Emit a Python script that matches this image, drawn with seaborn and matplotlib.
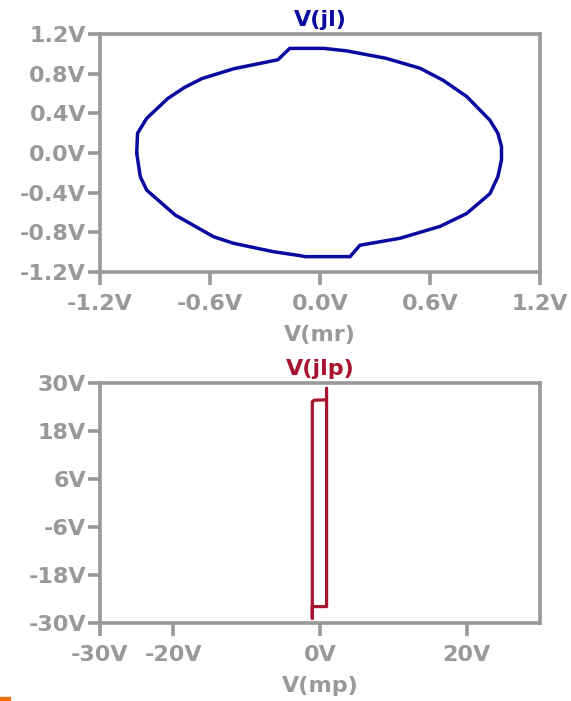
import matplotlib
matplotlib.use("Agg")
import matplotlib.pyplot as plt
import matplotlib.patches as mpatches
import seaborn as sns
import pandas as pd

# V(jl) versus V(mr): closed loop traced counter-clockwise from the left edge
mr_x = [-1.0, -0.995, -0.945, -0.83, -0.74, -0.645, -0.47, -0.23, -0.165, 0.02, 0.145,
        0.36, 0.545, 0.67, 0.8, 0.927, 0.97, 0.99, 0.99, 0.97, 0.927, 0.8, 0.655, 0.436,
        0.218, 0.164, -0.08, -0.127, -0.255, -0.473, -0.58, -0.79, -0.945,
        -0.98, -1.0]
jl_y = [0.0, 0.2, 0.35, 0.55, 0.66, 0.75, 0.85, 0.94, 1.055, 1.055, 1.03,
        0.955, 0.855, 0.735, 0.57, 0.33, 0.2, 0.065, -0.07, -0.24, -0.41, -0.61, -0.74, -0.86,
        -0.93, -1.045, -1.045, -1.03, -0.995, -0.91, -0.845, -0.625, -0.375,
        -0.24, 0.0]

# V(jlp) versus V(mp): narrow hysteresis loop
mp_x = [0.9, 0.9, -1.05, -1.05, -1.05, -0.8, 0.9]
jlp_y = [28.7, -25.9, -25.9, -28.8, 25.3, 25.7, 25.8]

top_xticks = [-1.2, -0.6, 0.0, 0.6, 1.2]
top_xlabels = ["-1.2V", "-0.6V", "0.0V", "0.6V", "1.2V"]
top_yticks = [-1.2, -0.8, -0.4, 0.0, 0.4, 0.8, 1.2]
top_ylabels = ["-1.2V", "-0.8V", "-0.4V", "0.0V", "0.4V", "0.8V", "1.2V"]

bot_xticks = [-30, -20, 0, 20]
bot_xlabels = ["-30V", "-20V", "0V", "20V"]
bot_yticks = [-30, -18, -6, 6, 18, 30]
bot_ylabels = ["-30V", "-18V", "-6V", "6V", "18V", "30V"]

GRAY = "#999999"
BLUE = "#0a0aa0"
RED = "#a8142e"
FS = 16

sns.set_theme(style="white")
plt.rcParams["font.family"] = ["DejaVu Sans"]
plt.rcParams["font.weight"] = "bold"

W, H = 571, 701
fig = plt.figure(figsize=(W / 100, H / 100), dpi=100)

ax1 = fig.add_axes([100 / W, (H - 272) / H, 440 / W, 238 / H])
ax2 = fig.add_axes([100 / W, (H - 623) / H, 440 / W, 240 / H])

df1 = pd.DataFrame({"mr": mr_x, "jl": jl_y})
df2 = pd.DataFrame({"mp": mp_x, "jlp": jlp_y})

sns.lineplot(data=df1, x="mr", y="jl", sort=False, estimator=None,
             color=BLUE, linewidth=2.5, ax=ax1)
sns.lineplot(data=df2, x="mp", y="jlp", sort=False, estimator=None,
             color=RED, linewidth=2.3, ax=ax2)


def style(ax, xt, xl, yt, yl, lim, xlabel, title, tcolor, tpad):
    ax.set_xlim(-lim, lim)
    ax.set_ylim(-lim, lim)
    ax.set_xticks(xt)
    ax.set_xticklabels(xl)
    ax.set_yticks(yt)
    ax.set_yticklabels(yl)
    for s in ax.spines.values():
        s.set_color(GRAY)
        s.set_linewidth(2.6)
    ax.tick_params(axis="both", which="major", bottom=True, left=True,
                   top=False, right=False, direction="out", length=9, width=2.6,
                   color=GRAY, labelcolor=GRAY, labelsize=FS)
    ax.tick_params(axis="x", pad=7)
    ax.tick_params(axis="y", pad=1)
    for lab in ax.get_xticklabels() + ax.get_yticklabels():
        lab.set_fontweight("bold")
    ax.set_xlabel(xlabel, color=GRAY, fontsize=FS, fontweight="bold", labelpad=8)
    ax.set_ylabel("")
    ax.set_title(title, color=tcolor, fontsize=FS, fontweight="bold", pad=tpad)


style(ax1, top_xticks, top_xlabels, top_yticks, top_ylabels, 1.2,
      "V(mr)", "V(jl)", BLUE, 6)
style(ax2, bot_xticks, bot_xlabels, bot_yticks, bot_ylabels, 30,
      "V(mp)", "V(jlp)", RED, 6)

fig.patches.append(mpatches.Rectangle((0, 0), 10 / W, 4 / H, transform=fig.transFigure,
                                      color="#f07010", zorder=5))

fig.savefig("out.png", dpi=100, facecolor="white")
